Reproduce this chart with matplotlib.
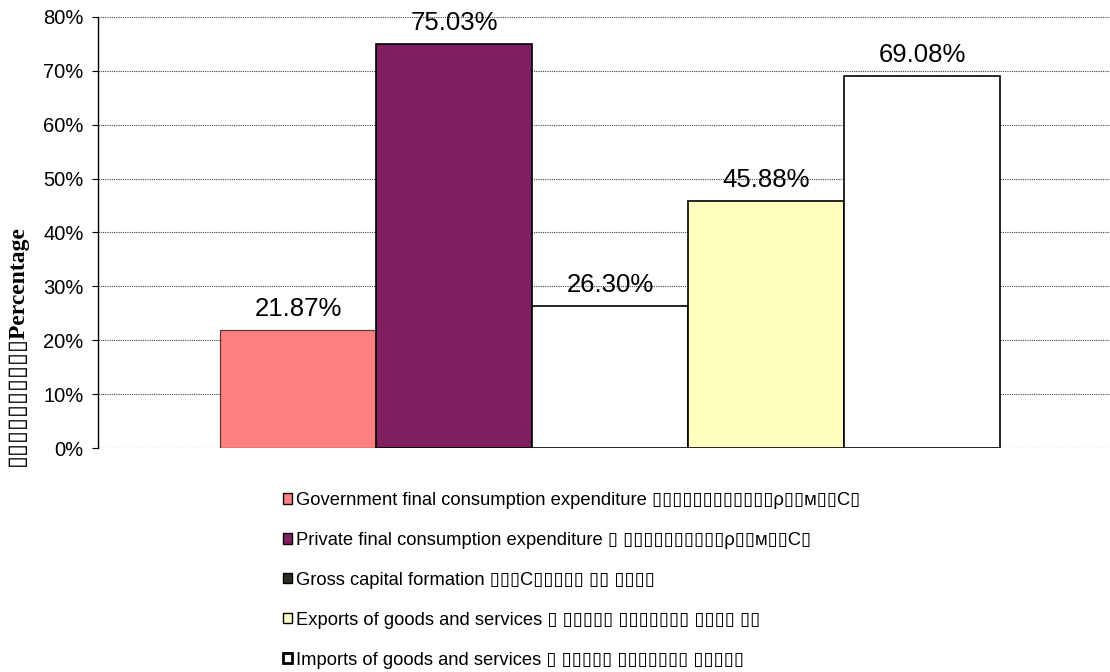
import matplotlib
matplotlib.use("Agg")
import matplotlib.pyplot as plt
from matplotlib.patches import Patch
from matplotlib.ticker import FuncFormatter

# data (one category, five series)
series = [
    "Government final consumption expenditure ▯▯▯▯▯▯▯▯▯▯▯▯ρ▯▯м▯▯C▯",
    "Private final consumption expenditure ▯ ▯▯▯▯▯▯▯▯▯▯ρ▯▯м▯▯C▯",
    "Gross capital formation ▯▯▯C▯▯▯▯▯ ▯▯ ▯▯▯▯",
    "Exports of goods and services ▯ ▯▯▯▯▯ ▯▯▯▯▯▯▯ ▯▯▯▯ ▯▯",
    "Imports of goods and services ▯ ▯▯▯▯▯ ▯▯▯▯▯▯▯ ▯▯▯▯▯",
]
values = [21.87, 75.03, 26.30, 45.88, 69.08]
bar_colors = ["#FF8080", "#801F5F", "#FFFFFF", "#FFFFC0", "#FFFFFF"]
legend_colors = ["#FF8080", "#801F5F", "#2E2E1E", "#FFFFC0", "#FFFFFF"]
yticks = [0, 10, 20, 30, 40, 50, 60, 70, 80]
ylabel = "▯▯▯▯▯▯▯▯▯▯Percentage"

sans = ["Liberation Sans", "DejaVu Sans"]

W, H = 1110, 672
fig = plt.figure(figsize=(W / 100, H / 100), dpi=100)
ax = fig.add_axes([98 / W, 1 - 448 / H, (W - 98) / W, (448 - 17) / H])

x = list(range(len(values)))
bars = ax.bar(x, values, width=1.0, color=bar_colors, edgecolor="black",
              linewidth=1.2, zorder=3)
bars[0].set_edgecolor("#5a3a3a")
bars[0].set_linewidth(0.9)

for xi, v in zip(x, values):
    ax.annotate(f"{v:.2f}%", (xi, v), xytext=(0, 6.5), textcoords="offset points",
                ha="center", va="bottom", fontsize=18.5, family=sans,
                annotation_clip=False, zorder=4)

ax.set_ylim(0, 80)
ax.set_xlim(-0.5 - 122 / 156, -0.5 + (W - 220) / 156)
ax.set_yticks(yticks)
ax.yaxis.set_major_formatter(FuncFormatter(lambda v, p: f"{int(v)}%"))
ax.set_xticks([])
ax.tick_params(axis="y", direction="out", length=4.5, width=0.8,
               labelsize=14.5, pad=6)
for lab in ax.get_yticklabels():
    lab.set_family(sans)

ax.grid(axis="y", color="#444444", linestyle=(0, (1, 1)), linewidth=0.8, zorder=0)
ax.set_axisbelow(True)
for s in ["top", "right", "bottom"]:
    ax.spines[s].set_visible(False)
ax.spines["left"].set_linewidth(1.0)

fig.text(17 / W, 1 - 346 / H, ylabel, rotation=90, ha="center", va="center",
         fontsize=17, fontweight="bold",
         family=["Liberation Serif", "DejaVu Sans"])

handles = [Patch(facecolor=c, edgecolor="black", linewidth=1.0) for c in legend_colors]
handles[4] = Patch(facecolor="white", edgecolor="black", linewidth=2.0)
leg = fig.legend(handles, series, loc="upper left",
                 bbox_to_anchor=(283 / W, 1 - 492 / H),
                 frameon=False, borderpad=0, borderaxespad=0,
                 handlelength=0.48, handleheight=0.48, handletextpad=0.25,
                 labelspacing=1.25, prop={"family": sans, "size": 13.2})

fig.savefig("out.png", dpi=100)
